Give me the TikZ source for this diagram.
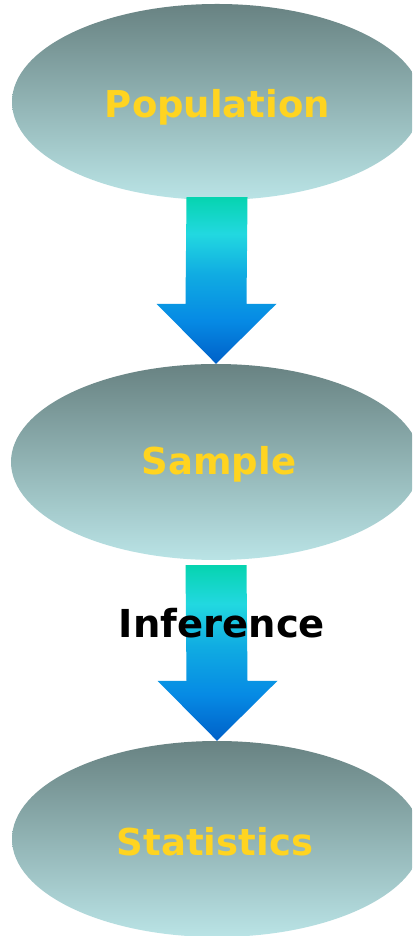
\documentclass[tikz,border=0pt]{standalone}
\usepackage{fontspec}
\setmainfont{DejaVu Sans}
\usetikzlibrary{calc,shapes.geometric}
\definecolor{elltop}{RGB}{104,130,130}
\definecolor{ellbot}{RGB}{186,228,230}
\definecolor{labyel}{RGB}{255,212,32}
\definecolor{arA}{RGB}{0,96,200}
\definecolor{arB}{RGB}{6,138,228}
\definecolor{arC}{RGB}{16,172,226}
\definecolor{arD}{RGB}{34,216,224}
\definecolor{arE}{RGB}{6,212,176}
\pgfdeclareverticalshading{arrowshade}{100bp}{
  color(0bp)=(arA);
  color(25bp)=(arA);
  color(38bp)=(arB);
  color(52bp)=(arC);
  color(64bp)=(arD);
  color(75bp)=(arE);
  color(100bp)=(arE)}
\tikzset{
  ellnode/.style={ellipse, minimum width=410pt, minimum height=196pt, inner sep=0pt,
    top color=elltop, bottom color=ellbot, draw=none},
  elltext/.style={anchor=base, text=labyel, font=\bfseries\fontsize{37}{40}\selectfont, inner sep=0pt},
  blockarrow/.style={shading=arrowshade, draw=none}
}
\begin{document}
\begin{tikzpicture}[x=1pt,y=1pt]
\useasboundingbox (0,0) rectangle (412,936);
\clip (0,0) rectangle (412,936);
\fill[white] (0,0) rectangle (412,936);
% ellipses
\node[ellnode] (pop) at (217,834) {};
\node[ellnode] (samp) at (216,474) {};
\node[ellnode] (stat) at (217,97) {};
% block arrows (shaft top at upper node, tip at lower node)
\coordinate (a1top) at ($(pop.south)+(0,3)$);
\coordinate (a1tip) at (samp.north);
\path[blockarrow] ($(a1top)+(-30.5,0)$) -- ($(a1top)+(30.5,0)$) -- ($(a1tip)+(30.5,60)$) -- ($(a1tip)+(60.5,60)$)
  -- (a1tip) -- ($(a1tip)+(-59.5,60)$) -- ($(a1tip)+(-30.5,60)$) -- cycle;
\coordinate (a2top) at ($(samp.south)+(0,-5)$);
\coordinate (a2tip) at (stat.north);
\path[blockarrow] ($(a2top)+(-30.5,0)$) -- ($(a2top)+(30.5,0)$) -- ($(a2tip)+(30.5,60)$) -- ($(a2tip)+(60.5,60)$)
  -- (a2tip) -- ($(a2tip)+(-59.5,60)$) -- ($(a2tip)+(-30.5,60)$) -- cycle;
% labels
\node[elltext] (poplab) at (217.5,818) {Population};
\node[elltext] (samplab) at (219,461) {Sample};
\node[elltext] (statlab) at (215,80) {Statistics};
\node[elltext, text=black, font=\bfseries\fontsize{38.5}{42}\selectfont] (inf) at (222,298) {Inference};
\end{tikzpicture}
\end{document}
